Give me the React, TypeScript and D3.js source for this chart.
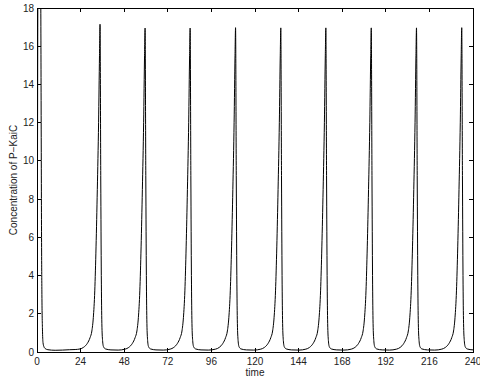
import { useMemo } from 'react';
import * as d3 from 'd3';

// time points and P-KaiC concentration
const TIME = [
  0, 0.2, 0.4, 0.6, 1.2, 1.8, 2.1, 2.3, 2.5, 2.7, 3.0, 3.3, 3.8, 4.5, 6, 10, 14, 18, 21,
  23.7, 25.7, 27.7, 29.2, 30.2, 31.0, 31.8, 32.5, 33.2, 33.9, 34.4, 34.7,
  35.1, 35.4, 35.7, 36.1, 36.6, 37.7, 40.7, 44.7,
  48.5, 50.5, 52.5, 54.0, 55.0, 55.8, 56.6, 57.3, 58.0, 58.7, 59.2, 59.5,
  59.9, 60.2, 60.5, 60.9, 61.4, 62.5, 65.5, 69.5,
  73.3, 75.3, 77.3, 78.8, 79.8, 80.6, 81.4, 82.1, 82.8, 83.5, 84.0, 84.3,
  84.7, 85.0, 85.3, 85.7, 86.2, 87.3, 90.3, 94.3,
  98.3, 100.3, 102.3, 103.8, 104.8, 105.6, 106.4, 107.1, 107.8, 108.5, 109.0, 109.3,
  109.7, 110.0, 110.3, 110.7, 111.2, 112.3, 115.3, 119.3,
  123.2, 125.2, 127.2, 128.7, 129.7, 130.5, 131.3, 132.0, 132.7, 133.4, 133.9, 134.2,
  134.6, 134.9, 135.2, 135.6, 136.1, 137.2, 140.2, 144.2,
  148.0, 150.0, 152.0, 153.5, 154.5, 155.3, 156.1, 156.8, 157.5, 158.2, 158.7, 159.0,
  159.4, 159.7, 160.0, 160.4, 160.9, 162.0, 165.0, 169.0,
  173.0, 175.0, 177.0, 178.5, 179.5, 180.3, 181.1, 181.8, 182.5, 183.2, 183.7, 184.0,
  184.4, 184.7, 185.0, 185.4, 185.9, 187.0, 190.0, 194.0,
  197.9, 199.9, 201.9, 203.4, 204.4, 205.2, 206.0, 206.7, 207.4, 208.1, 208.6, 208.9,
  209.3, 209.6, 209.9, 210.3, 210.8, 211.9, 214.9, 218.9,
  222.8, 224.8, 226.8, 228.3, 229.3, 230.1, 230.9, 231.6, 232.3, 233.0, 233.5, 233.8,
  234.2, 234.5, 234.8, 235.2, 235.7, 236.8, 240,
];

const PKAIC = [
  0.1, 6, 16, 22, 26, 22, 18, 12, 6, 3, 1.2, 0.5, 0.28, 0.18, 0.12, 0.09, 0.1, 0.12, 0.13,
  0.16, 0.25, 0.45, 0.75, 1.1, 1.8, 3.2, 5.5, 8.5, 12, 15.5, 17.15,
  9, 4, 1.5, 0.6, 0.28, 0.16, 0.11, 0.1,
  0.15, 0.24, 0.45, 0.75, 1.1, 1.8, 3.2, 5.5, 8.5, 12, 15.5, 16.95,
  9, 4, 1.5, 0.6, 0.28, 0.16, 0.11, 0.1,
  0.15, 0.24, 0.45, 0.75, 1.1, 1.8, 3.2, 5.5, 8.5, 12, 15.5, 16.95,
  9, 4, 1.5, 0.6, 0.28, 0.16, 0.11, 0.1,
  0.15, 0.24, 0.45, 0.75, 1.1, 1.8, 3.2, 5.5, 8.5, 12, 15.5, 16.97,
  9, 4, 1.5, 0.6, 0.28, 0.16, 0.11, 0.1,
  0.15, 0.24, 0.45, 0.75, 1.1, 1.8, 3.2, 5.5, 8.5, 12, 15.5, 16.96,
  9, 4, 1.5, 0.6, 0.28, 0.16, 0.11, 0.1,
  0.15, 0.24, 0.45, 0.75, 1.1, 1.8, 3.2, 5.5, 8.5, 12, 15.5, 16.96,
  9, 4, 1.5, 0.6, 0.28, 0.16, 0.11, 0.1,
  0.15, 0.24, 0.45, 0.75, 1.1, 1.8, 3.2, 5.5, 8.5, 12, 15.5, 16.96,
  9, 4, 1.5, 0.6, 0.28, 0.16, 0.11, 0.1,
  0.15, 0.24, 0.45, 0.75, 1.1, 1.8, 3.2, 5.5, 8.5, 12, 15.5, 16.96,
  9, 4, 1.5, 0.6, 0.28, 0.16, 0.11, 0.1,
  0.15, 0.24, 0.45, 0.75, 1.1, 1.8, 3.2, 5.5, 8.5, 12, 15.5, 16.97,
  9, 4, 1.5, 0.6, 0.28, 0.16, 0.11,
];

const X_TICKS = [0, 24, 48, 72, 96, 120, 144, 168, 192, 216, 240];
const Y_TICKS = [0, 2, 4, 6, 8, 10, 12, 14, 16, 18];

const W = 480;
const H = 383;
const margin = { top: 8, right: 7, bottom: 31, left: 37 };
const FONT = 'Liberation Sans, Arial, Helvetica, sans-serif';

export default function App() {
  const innerW = W - margin.left - margin.right;
  const innerH = H - margin.top - margin.bottom;

  const x = d3.scaleLinear().domain([0, 240]).range([0, innerW]);
  const y = d3.scaleLinear().domain([0, 18]).range([innerH, 0]);

  const path = useMemo(() => {
    const pts = TIME.map((t, i) => [t, PKAIC[i]] as [number, number]);
    const line = d3.line<[number, number]>()
      .x(d => x(d[0]))
      .y(d => y(d[1]))
      .curve(d3.curveMonotoneX);
    return line(pts) || '';
  }, []);

  const tick = 4;

  return (
    <svg width={W} height={H} style={{ position: 'absolute', left: 0, top: 0, background: '#fff' }}>
      <defs>
        <clipPath id="plot-clip">
          <rect x={0} y={0} width={innerW} height={innerH} />
        </clipPath>
      </defs>
      <g transform={`translate(${margin.left},${margin.top})`}>
        <path d={path} fill="none" stroke="#000" strokeWidth={1} clipPath="url(#plot-clip)" />

        {/* box */}
        <rect x={0} y={0} width={innerW} height={innerH} fill="none" stroke="#000" strokeWidth={1} shapeRendering="crispEdges" />

        {/* x ticks, inward on top and bottom */}
        {X_TICKS.map(t => (
          <g key={`x${t}`} shapeRendering="crispEdges">
            <line x1={x(t)} x2={x(t)} y1={innerH} y2={innerH - tick} stroke="#000" />
            <line x1={x(t)} x2={x(t)} y1={0} y2={tick} stroke="#000" />
            <text x={x(t)} y={innerH + 13} textAnchor="middle" fontSize={10} fontFamily={FONT} fill="#222">
              {t}
            </text>
          </g>
        ))}

        {/* y ticks, inward on left and right */}
        {Y_TICKS.map(t => (
          <g key={`y${t}`} shapeRendering="crispEdges">
            <line x1={0} x2={tick} y1={y(t)} y2={y(t)} stroke="#000" />
            <line x1={innerW} x2={innerW - tick} y1={y(t)} y2={y(t)} stroke="#000" />
            <text x={-3} y={y(t)} dy="0.35em" textAnchor="end" fontSize={10} fontFamily={FONT} fill="#222">
              {t}
            </text>
          </g>
        ))}

        <text x={innerW / 2} y={innerH + 24} textAnchor="middle" fontSize={10} fontFamily={FONT} fill="#222">
          time
        </text>
        <text
          transform={`translate(${-20},${innerH / 2}) rotate(-90)`}
          textAnchor="middle"
          fontSize={10}
          fontFamily={FONT}
          fill="#222"
        >
          Concentration of P−KaiC
        </text>
      </g>
    </svg>
  );
}
